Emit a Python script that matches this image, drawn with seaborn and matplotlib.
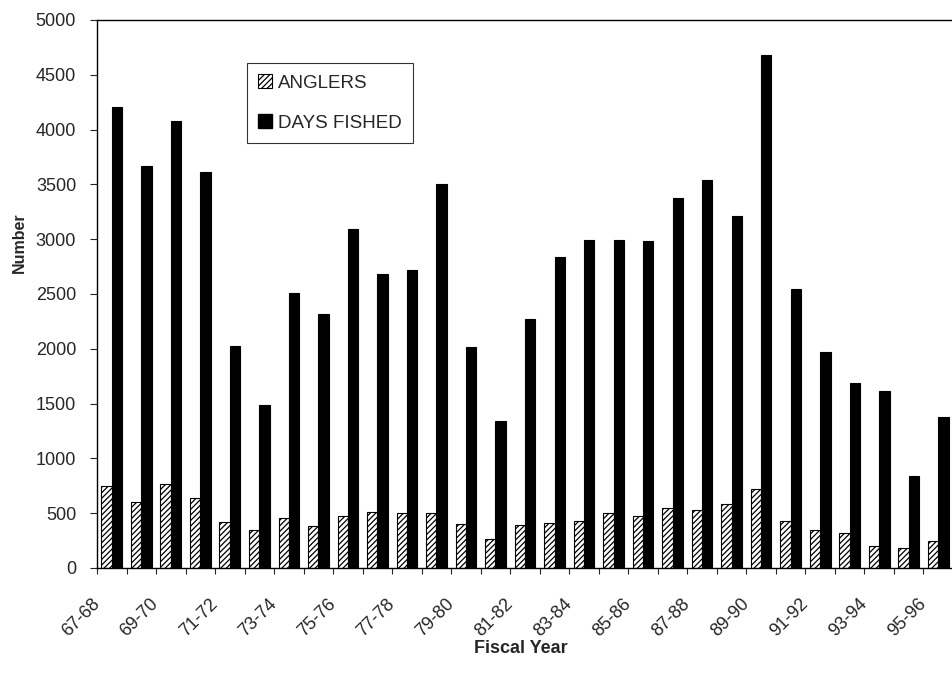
import matplotlib
matplotlib.use("Agg")
import matplotlib.pyplot as plt
from matplotlib.patches import Patch
import seaborn as sns
import pandas as pd

years = ["67-68", "68-69", "69-70", "70-71", "71-72", "72-73", "73-74", "74-75",
         "75-76", "76-77", "77-78", "78-79", "79-80", "80-81", "81-82", "82-83",
         "83-84", "84-85", "85-86", "86-87", "87-88", "88-89", "89-90", "90-91",
         "91-92", "92-93", "93-94", "94-95", "95-96"]
anglers = [750, 605, 765, 635, 420, 350, 455, 380, 470, 510, 505, 500, 400, 265,
           395, 410, 425, 500, 475, 550, 530, 580, 720, 430, 345, 320, 205, 180, 250]
days_fished = [4210, 3670, 4080, 3610, 2030, 1490, 2510, 2320, 3090, 2680, 2720,
               3500, 2020, 1340, 2270, 2840, 2990, 2990, 2985, 3380, 3540, 3210,
               4680, 2550, 1970, 1690, 1615, 840, 1375]
series_names = ["ANGLERS", "DAYS FISHED"]
y_ticks = [0, 500, 1000, 1500, 2000, 2500, 3000, 3500, 4000, 4500, 5000]

df = pd.DataFrame({
    "year": years * 2,
    "series": [series_names[0]] * len(years) + [series_names[1]] * len(years),
    "value": anglers + days_fished,
})

sns.set_style("ticks")
plt.rcParams["font.family"] = ["Liberation Sans", "DejaVu Sans"]
plt.rcParams["hatch.color"] = "#222222"
plt.rcParams["hatch.linewidth"] = 0.9

fig = plt.figure(figsize=(9.53, 6.87), dpi=100)
ax = fig.add_axes([97 / 953, 119 / 687, 1 - 97 / 953, (568 - 20) / 687])

sns.barplot(data=df, x="year", y="value", hue="series", order=years,
            hue_order=series_names,
            palette={"ANGLERS": "white", "DAYS FISHED": "black"},
            width=0.7, gap=0, edgecolor="black", linewidth=0.8,
            legend=False, ax=ax)
for bar in ax.containers[0]:
    bar.set_hatch("//////")

ax.set_ylim(0, 5000)
ax.set_yticks(y_ticks)
ax.set_yticklabels([str(v) for v in y_ticks], fontsize=13)
ax.set_xlim(-0.5, -0.5 + 856 / 29.82)

n = len(years)
ax.set_xticks([i - 0.5 for i in range(n + 1)])
ax.set_xticklabels([years[i] if (i < n and i % 2 == 0) else "" for i in range(n + 1)],
                   rotation=45, ha="right", va="center", rotation_mode="anchor",
                   fontsize=13)
ax.tick_params(axis="x", length=4, width=0.8, pad=20, direction="out")
ax.tick_params(axis="y", length=5, width=0.8, pad=10, direction="out")

for s in ["left", "bottom", "top"]:
    ax.spines[s].set_visible(True)
    ax.spines[s].set_color("black")
    ax.spines[s].set_linewidth(1.0)
ax.spines["right"].set_visible(False)

ax.set_xlabel("Fiscal Year", fontsize=13, fontweight="bold")
ax.set_ylabel("Number", fontsize=11.5, fontweight="bold")
ax.xaxis.set_label_coords(0.495, -0.132)
ax.yaxis.set_label_coords(-0.082, 0.593)

handles = [Patch(facecolor="white", edgecolor="black", hatch="//////", linewidth=0.8),
           Patch(facecolor="black", edgecolor="black")]
leg = ax.legend(handles, series_names, loc="upper left",
                bbox_to_anchor=(0.175, 0.9215), frameon=True, fancybox=False,
                edgecolor="black", fontsize=13.5, handlelength=0.75,
                handleheight=0.75, handletextpad=0.3, labelspacing=1.2,
                borderpad=0.6, borderaxespad=0)
leg.get_frame().set_linewidth(0.8)

fig.savefig("out.png", dpi=100)
